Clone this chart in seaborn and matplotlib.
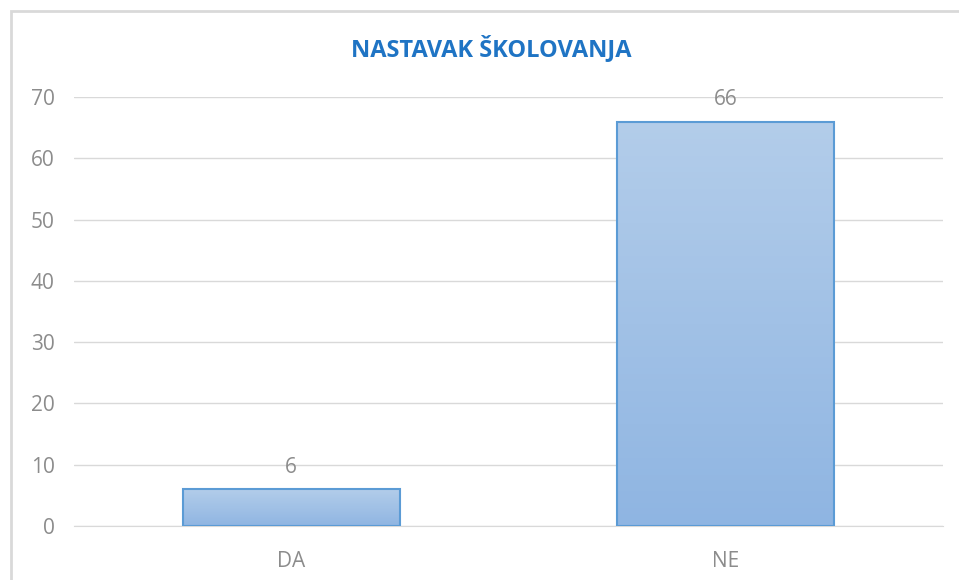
import matplotlib
matplotlib.use("Agg")
import matplotlib.pyplot as plt
from matplotlib.patches import Rectangle
import numpy as np
import pandas as pd
import seaborn as sns

# Datos del gráfico
categorias = ["DA", "NE"]
valores = [6, 66]
ticks_y = [0, 10, 20, 30, 40, 50, 60, 70]
titulo = "NASTAVAK ŠKOLOVANJA"

sns.set_style("white")
plt.rcParams["font.family"] = ["Open Sans", "DejaVu Sans"]

gris = "#8c8c8c"
df = pd.DataFrame({"respuesta": categorias, "cantidad": valores})

fig = plt.figure(figsize=(9.59, 5.80), dpi=100)
ax = fig.add_axes([74 / 959, 1 - 526 / 580, (943 - 74) / 959, (526 - 97) / 580])

sns.barplot(data=df, x="respuesta", y="cantidad", ax=ax, width=0.5,
            color="#a3c0e6", edgecolor="#5b9bd5", linewidth=1.5, zorder=3)

# Relleno degradado en cada barra
grad = np.linspace(0, 1, 256).reshape(-1, 1)
cmap = matplotlib.colors.LinearSegmentedColormap.from_list("barra", ["#8fb5e2", "#b3cdea"])
for p in ax.patches:
    x0, y0 = p.get_x(), p.get_y()
    w, h = p.get_width(), p.get_height()
    p.set_facecolor("none")
    img = ax.imshow(grad, extent=[x0, x0 + w, y0, y0 + h], origin="lower",
                    cmap=cmap, aspect="auto", zorder=2.5)
    img.set_clip_path(p)

# Etiquetas de valor encima de las barras
for p, v in zip(ax.patches, valores):
    ax.text(p.get_x() + p.get_width() / 2, v + 1.9, str(v), ha="center", va="bottom",
            fontsize=15, color=gris)

ax.set_xlim(-0.5, 1.5)
ax.set_ylim(0, 70)
ax.set_yticks(ticks_y)
ax.grid(axis="y", color="#d9d9d9", linewidth=1, zorder=0)
for s in ["top", "right", "left"]:
    ax.spines[s].set_visible(False)
ax.spines["bottom"].set_color("#d9d9d9")
ax.tick_params(axis="both", length=0, labelsize=15, labelcolor=gris)
ax.tick_params(axis="y", pad=14)
ax.tick_params(axis="x", pad=18)
ax.set_xlabel("")
ax.set_ylabel("")

fig.text(491 / 959, 1 - 49 / 580, titulo, ha="center", va="center",
         fontsize=17, fontweight="bold", color="#1f74c4")

# Marco del gráfico
fig.patches.append(Rectangle((11 / 959, -0.01), 1, 1 - 11 / 580 + 0.01,
                             transform=fig.transFigure, fill=False,
                             edgecolor="#d9d9d9", linewidth=2))

fig.savefig("out.png", dpi=100)
